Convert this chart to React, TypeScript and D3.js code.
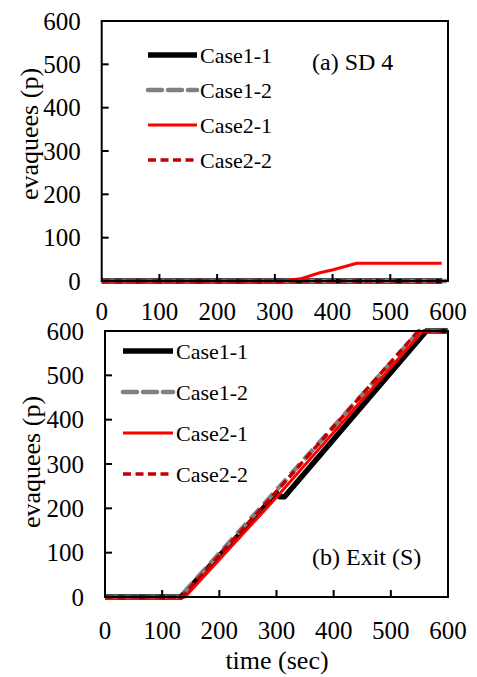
import React from 'react';
import * as d3 from 'd3';

// tick values shared by both panels
const xTicks = [0, 100, 200, 300, 400, 500, 600];
const yTicks = [0, 100, 200, 300, 400, 500, 600];
const seriesNames = ['Case1-1', 'Case1-2', 'Case2-1', 'Case2-2'];

// (a) SD 4
const sdCase11Time = [0, 590];
const sdCase11 = [0, 0];
const sdCase12Time = [0, 598];
const sdCase12 = [0, 0];
const sdCase21Time = [0, 312, 344, 378, 401, 442, 589];
const sdCase21 = [0, 0, 5, 19, 26, 41, 41];
const sdCase22Time = [0, 590];
const sdCase22 = [0, 0];

// (b) Exit (S)
const exitCase11Time = [0, 133, 254, 300, 306, 314, 562, 600];
const exitCase11 = [0, 0, 167, 234, 226, 226, 600, 600];
const exitCase12Time = [0, 131, 300, 550, 600];
const exitCase12 = [0, 0, 241, 600, 600];
const exitCase21Time = [0, 140, 300, 556, 590];
const exitCase21 = [0, 0, 225, 600, 600];
const exitCase22Time = [0, 134, 300, 548, 590];
const exitCase22 = [0, 0, 238, 600, 600];

const lineStyles = [
    { stroke: '#000000', width: 5.5, dash: null },
    { stroke: '#808080', width: 4.5, dash: '14,6' },
    { stroke: '#ff0000', width: 3, dash: null },
    { stroke: '#c00000', width: 3.5, dash: '8,4.5' },
];

const font = 'Liberation Serif, DejaVu Serif, serif';

function zip(times, values) {
    return times.map((t, i) => ({ t: t, v: values[i] }));
}

function Panel({ series, box, legend, note, yTitleY, yTitleX, xLabelY }) {
    let xScale = d3.scaleLinear().domain([0, 600]).range([box.left, box.right]);
    let yScale = d3.scaleLinear().domain([0, 600]).range([box.bottom, box.top]);
    let line = d3.line()
        .x((d) => xScale(d.t))
        .y((d) => yScale(d.v));

    return (
        <g>
            {series.map((s, i) => (
                <path key={i} d={line(s)} fill="none"
                    stroke={lineStyles[i].stroke}
                    strokeWidth={lineStyles[i].width}
                    strokeDasharray={lineStyles[i].dash || undefined}
                    strokeLinejoin="round" />
            ))}

            {/* frame */}
            <rect x={box.left} y={box.top} width={box.right - box.left} height={box.bottom - box.top}
                fill="none" stroke="#000" strokeWidth={2} />

            {xTicks.slice(1, -1).map((t) => (
                <line key={'xt' + t} x1={xScale(t)} x2={xScale(t)} y1={box.bottom} y2={box.bottom - 7}
                    stroke="#000" strokeWidth={2} />
            ))}
            {yTicks.slice(1, -1).map((t) => (
                <line key={'yt' + t} x1={box.left} x2={box.left + 7} y1={yScale(t)} y2={yScale(t)}
                    stroke="#000" strokeWidth={2} />
            ))}

            {xTicks.map((t) => (
                <text key={'xl' + t} x={xScale(t)} y={xLabelY} textAnchor="middle"
                    dominantBaseline="central" fontSize={25} style={{ fontFamily: font }}>{t}</text>
            ))}
            {yTicks.map((t) => (
                <text key={'yl' + t} x={box.left - 21} y={yScale(t)} textAnchor="end"
                    dominantBaseline="central" fontSize={25} style={{ fontFamily: font }}>{t}</text>
            ))}

            <text transform={`translate(${yTitleX},${yTitleY}) rotate(-90)`} textAnchor="middle"
                dominantBaseline="central" fontSize={26} style={{ fontFamily: font }}>evaquees (p)</text>

            {seriesNames.map((name, i) => (
                <g key={name}>
                    <line x1={legend.x} x2={legend.x + legend.len} y1={legend.rows[i]} y2={legend.rows[i]}
                        stroke={lineStyles[i].stroke} strokeWidth={lineStyles[i].width}
                        strokeDasharray={lineStyles[i].dash || undefined}
                        strokeLinecap={i === 1 ? 'round' : 'butt'} />
                    <text x={legend.x + legend.len + 3} y={legend.rows[i]} dominantBaseline="central"
                        fontSize={22} style={{ fontFamily: font }}>{name}</text>
                </g>
            ))}

            <text x={note.x} y={note.y} dominantBaseline="central" fontSize={24}
                style={{ fontFamily: font }}>{note.text}</text>
        </g>
    );
}

export default function App() {
    const sdSeries = [
        zip(sdCase11Time, sdCase11),
        zip(sdCase12Time, sdCase12),
        zip(sdCase21Time, sdCase21),
        zip(sdCase22Time, sdCase22),
    ];
    const exitSeries = [
        zip(exitCase11Time, exitCase11),
        zip(exitCase12Time, exitCase12),
        zip(exitCase21Time, exitCase21),
        zip(exitCase22Time, exitCase22),
    ];

    return (
        <svg width={477} height={677} style={{ position: 'absolute', left: 0, top: 0, background: '#fff' }}>
            <Panel
                series={sdSeries}
                box={{ left: 101.7, right: 448, top: 21, bottom: 281 }}
                legend={{ x: 148, len: 49, rows: [55, 90, 125, 160] }}
                note={{ x: 312, y: 62, text: '(a) SD 4' }}
                yTitleX={29} yTitleY={134} xLabelY={311}
            />
            <Panel
                series={exitSeries}
                box={{ left: 105, right: 448, top: 331, bottom: 597 }}
                legend={{ x: 123, len: 50, rows: [351, 392, 433, 474] }}
                note={{ x: 312, y: 557, text: '(b) Exit (S)' }}
                yTitleX={31} yTitleY={462} xLabelY={630}
            />
            <text x={277} y={660} textAnchor="middle" dominantBaseline="central"
                fontSize={26} style={{ fontFamily: font }}>time (sec)</text>
        </svg>
    );
}
